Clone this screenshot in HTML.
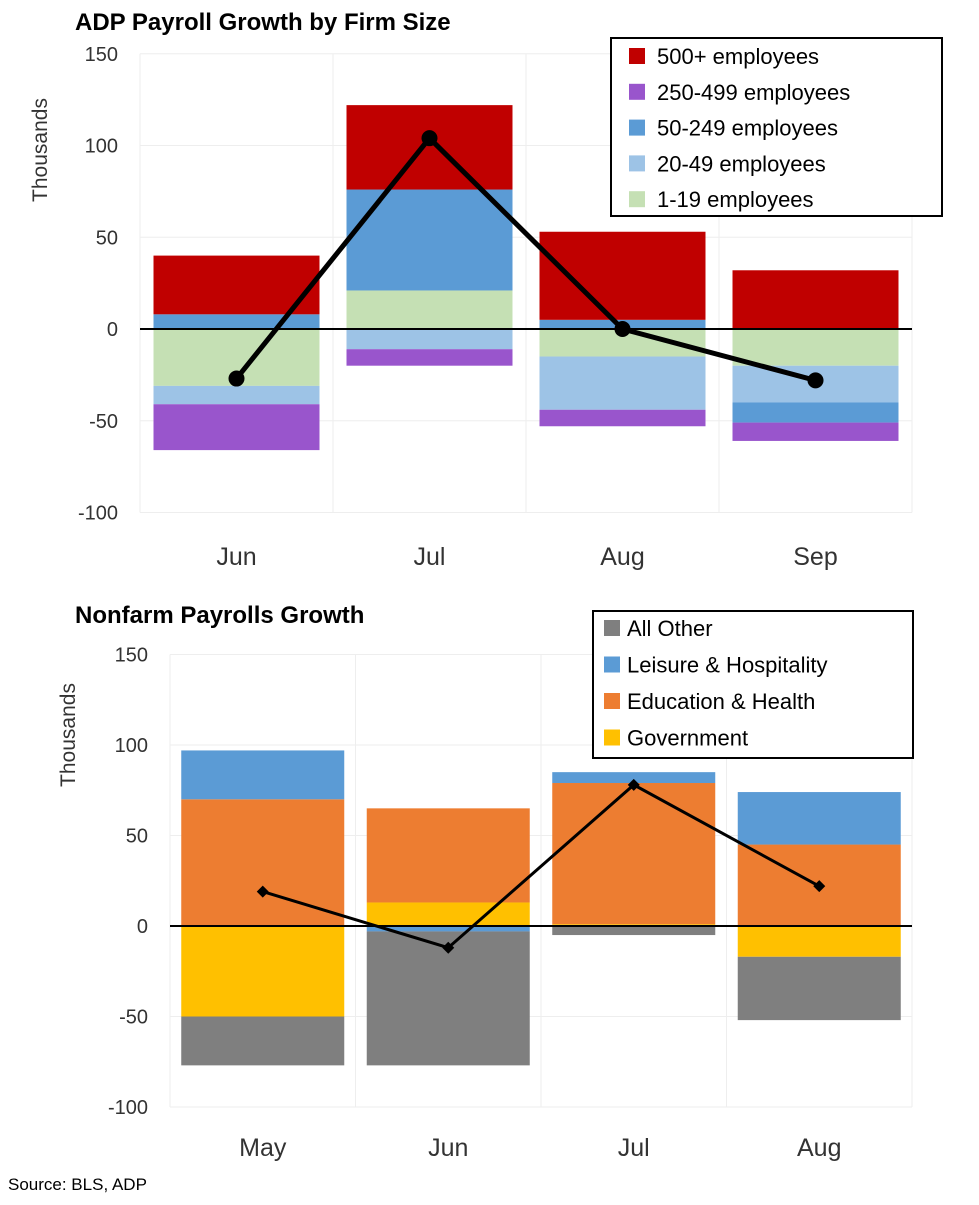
<!DOCTYPE html>
<html><head><meta charset="utf-8"><style>
body{margin:0;background:#fff;font-family:"Liberation Sans",sans-serif;}
svg text{font-family:"Liberation Sans",sans-serif;}
</style></head><body>
<svg id="c" width="979" height="1200" viewBox="0 0 979 1200" xmlns="http://www.w3.org/2000/svg">
<text x="75" y="30" font-size="24" font-weight="bold" fill="#000">ADP Payroll Growth by Firm Size</text>
<text x="75" y="623" font-size="24" font-weight="bold" fill="#000">Nonfarm Payrolls Growth</text>
<text transform="translate(47,150) rotate(-90)" text-anchor="middle" font-size="21" fill="#333">Thousands</text>
<text transform="translate(75,735) rotate(-90)" text-anchor="middle" font-size="21" fill="#333">Thousands</text>
<text x="8" y="1190" font-size="17" fill="#000">Source: BLS, ADP</text>
<g id="top"></g><g id="bot"></g>
</svg>
<script>
// ---- top chart data ----
const topCats = ["Jun","Jul","Aug","Sep"];
const topSeriesNames = ["1-19 employees","20-49 employees","50-249 employees","250-499 employees","500+ employees"];
const topS1 = [-31, 21, -15, -20];
const topS2 = [-10, -11, -29, -20];
const topS3 = [8, 55, 5, -11];
const topS4 = [-25, -9, -9, -10];
const topS5 = [32, 46, 48, 32];
const topLine = [-27, 104, 0, -28];
const topTicks = [150, 100, 50, 0, -50, -100];
// ---- bottom chart data ----
const botCats = ["May","Jun","Jul","Aug"];
const botSeriesNames = ["Government","Education & Health","Leisure & Hospitality","All Other"];
const botS1 = [-50, 13, 1, -17];
const botS2 = [70, 52, 78, 45];
const botS3 = [27, -3, 6, 29];
const botS4 = [-27, -74, -5, -35];
const botLine = [19, -12, 78, 22];
const botTicks = [150, 100, 50, 0, -50, -100];

const NS="http://www.w3.org/2000/svg";
function mk(parent,tag,attrs){const e=document.createElementNS(NS,tag);for(const k in attrs)e.setAttribute(k,attrs[k]);parent.appendChild(e);return e;}

function draw(g,cfg){
  const y=v=>cfg.y0-(v)*cfg.k;
  const band=(cfg.x1-cfg.x0)/cfg.cats.length;
  const xc=i=>cfg.x0+band*(i+0.5);
  cfg.ticks.forEach(t=>{
    const l=mk(g,'line',{x1:cfg.x0,x2:cfg.x1,y1:y(t),y2:y(t),stroke:'#eeeeee','stroke-width':1});
    
    
    const tx=mk(g,'text',{x:cfg.tickX,y:y(t)+7,'text-anchor':'end','font-size':20,fill:'#333'});
    tx.textContent=t;
    
    
  });
  for(let i=0;i<=cfg.cats.length;i++){
    const l=mk(g,'line',{x1:cfg.x0+band*i,x2:cfg.x0+band*i,y1:y(cfg.ticks[0]),y2:y(cfg.ticks[cfg.ticks.length-1]),stroke:'#eeeeee','stroke-width':1});
    
    
  }
  cfg.cats.forEach((c,i)=>{
    let pos=0,neg=0;
    cfg.series.forEach((s,j)=>{
      const v=s[i]; if(!v)return;
      let a,b;
      if(v>=0){a=pos;b=pos+v;pos=b;}else{a=neg;b=neg+v;neg=b;}
      const r=mk(g,'rect',{x:xc(i)-cfg.bw/2,width:cfg.bw,y:Math.min(y(a),y(b)),height:Math.abs(y(a)-y(b)),fill:cfg.colors[j]});
      
      
    });
    const t=mk(g,'text',{x:xc(i),y:cfg.xLabY,'text-anchor':'middle','font-size':25,fill:'#333'});
    t.textContent=c;
    
    
  });
  const z=mk(g,'line',{x1:cfg.x0,x2:cfg.x1,y1:y(0),y2:y(0),stroke:'#000','stroke-width':2});
  
  
  const pts=cfg.line.map((v,i)=>xc(i)+','+y(v)).join(' ');
  const pl=mk(g,'polyline',{points:pts,fill:'none',stroke:'#000','stroke-width':cfg.lw});
  
  
  cfg.line.forEach((v,i)=>{
    let m;
    if(cfg.diamond){const s=6;m=mk(g,'polygon',{points:`${xc(i)},${y(v)-s} ${xc(i)+s},${y(v)} ${xc(i)},${y(v)+s} ${xc(i)-s},${y(v)}`,fill:'#000'});}
    else m=mk(g,'circle',{cx:xc(i),cy:y(v),r:8,fill:'#000'});
    
    
  });
  const L=cfg.leg;
  const box=mk(g,'rect',{x:L.x,y:L.y,width:L.w,height:L.h,fill:'#fff',stroke:'#000','stroke-width':2});
  
  
  L.order.forEach((j,n)=>{
    const cy=L.y+L.first+n*L.step;
    const sq=mk(g,'rect',{x:L.sx,y:cy-8,width:16,height:16,fill:cfg.colors[j]});
    
    
    const t=mk(g,'text',{x:L.tx,y:cy+8,'font-size':22,fill:'#000'});
    t.textContent=cfg.names[j];
    
    
  });
}
draw(document.getElementById('top'),{cats:topCats,series:[topS1,topS2,topS3,topS4,topS5],names:topSeriesNames,
  colors:['#c5e0b4','#9dc3e6','#5b9bd5','#9955cc','#c00000'],line:topLine,ticks:topTicks,
  x0:140,x1:912,y0:329,k:1.835,bw:166,tickX:118,xLabY:565,lw:5,diamond:false,
  leg:{x:611,y:38,w:331,h:178,first:18,step:35.8,sx:629,tx:657,order:[4,3,2,1,0]}});
draw(document.getElementById('bot'),{cats:botCats,series:[botS1,botS2,botS3,botS4],names:botSeriesNames,
  colors:['#ffc000','#ed7d31','#5b9bd5','#7f7f7f'],line:botLine,ticks:botTicks,
  x0:170,x1:912,y0:926,k:1.81,bw:163,tickX:148,xLabY:1156,lw:3,diamond:true,
  leg:{x:593,y:611,w:320,h:147,first:17,step:36.5,sx:604,tx:627,order:[3,2,1,0]}});
</script>
</body></html>
